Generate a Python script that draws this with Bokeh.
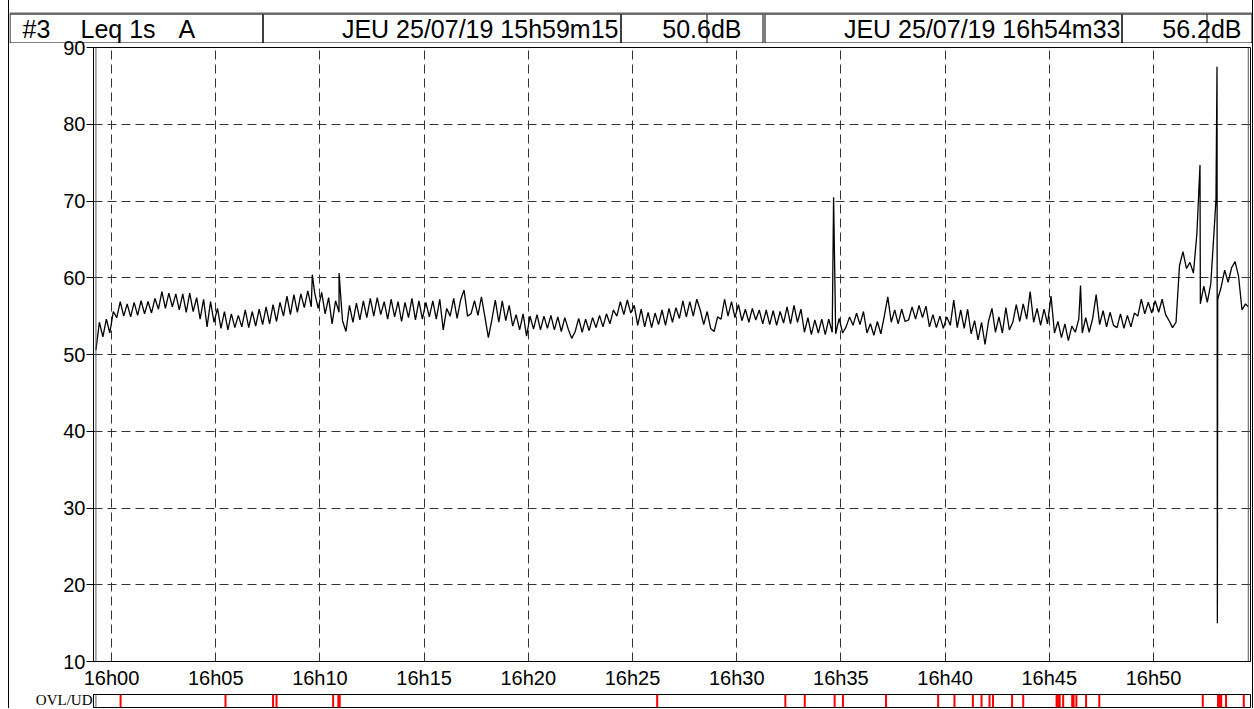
import numpy as np
from bokeh.plotting import figure
from bokeh.layouts import column
from bokeh.models import Range1d, FixedTicker, Span
from bokeh.embed import file_html
from bokeh.resources import INLINE
from bokeh.core.properties import value

# ---------------- data ----------------
channel_label = "#3"
measure_label = "Leq 1s"
weight_label = "A"
start_label = "JEU 25/07/19 15h59m15"
end_label = "JEU 25/07/19 16h54m33"
duration_s = 3318          # 15h59m15 -> 16h54m33
step_s = 10                # spacing of the sampled levels below

# Leq 1s A (dB) read every 10 s from 15h59m15 (one row per minute),
# alternating between the upper and lower edge of the noisy trace
levels_10s = [
    50.6, 54.2, 52.3, 54.6, 52.8, 55.6,
    54.8, 56.9, 55.0, 56.6, 54.9, 56.8,
    55.1, 57.0, 55.3, 56.9, 55.4, 57.3,
    55.9, 58.2, 56.0, 58.0, 56.2, 57.9,
    55.8, 57.9, 55.5, 58.0, 55.6, 57.4,
    54.6, 57.2, 53.6, 56.9, 54.2, 56.0,
    53.4, 55.6, 53.2, 55.3, 53.5, 55.1,
    53.6, 55.8, 53.5, 55.6, 53.7, 55.9,
    53.9, 56.2, 54.0, 56.5, 54.3, 56.8,
    55.0, 57.6, 55.2, 57.8, 55.5, 57.9,
    56.1, 58.3, 56.2, 58.0, 56.0, 58.1,
    55.3, 57.4, 54.0, 57.0, 55.5, 54.4,
    53.0, 56.4, 54.2, 56.7, 54.5, 57.0,
    54.8, 57.3, 55.0, 57.4, 55.2, 56.9,
    54.6, 57.2, 54.9, 56.9, 54.3, 56.8,
    54.8, 57.3, 54.5, 57.0, 54.6, 56.8,
    54.9, 57.0, 54.6, 57.2, 53.2, 56.0,
    55.0, 57.3, 54.7, 57.1, 58.4, 55.0,
    55.3, 57.0, 55.1, 57.5, 54.9, 52.2,
    54.5, 57.1, 54.2, 57.0, 54.4, 56.4,
    53.7, 55.2, 53.2, 55.3, 52.4, 55.0,
    53.3, 55.2, 53.2, 55.0, 53.4, 55.1,
    53.2, 54.9, 53.0, 54.8, 53.3, 52.1,
    53.0, 54.7, 52.9, 54.6, 53.1, 54.8,
    53.5, 55.1, 53.6, 55.3, 54.0, 55.8,
    55.0, 56.9, 55.2, 57.1, 55.4, 56.4,
    53.8, 55.9, 53.6, 55.5, 53.5, 55.4,
    53.9, 55.8, 53.8, 56.0, 54.2, 56.1,
    54.7, 57.0, 54.9, 56.9, 55.0, 57.2,
    55.8, 53.9, 55.6, 53.4, 53.0, 54.9,
    54.6, 57.2, 55.0, 56.9, 54.8, 56.5,
    54.4, 55.9, 54.2, 56.0, 54.5, 55.8,
    54.0, 55.8, 53.9, 55.7, 53.8, 55.6,
    54.1, 56.2, 54.0, 56.4, 54.2, 55.9,
    52.9, 54.8, 52.6, 54.5, 52.8, 54.6,
    52.6, 54.6, 52.9, 52.7, 54.7, 52.8,
    53.6, 54.9, 53.8, 55.4, 53.9, 55.6,
    52.8, 54.0, 52.5, 54.3, 52.7, 55.0,
    57.5, 54.2, 55.8, 54.0, 55.9, 54.3,
    54.5, 56.2, 54.6, 56.4, 54.8, 56.3,
    53.6, 55.2, 53.5, 55.0, 53.4, 54.9,
    53.8, 57.1, 53.5, 55.8, 53.4, 55.9,
    52.7, 54.4, 51.9, 54.2, 51.3, 54.3,
    56.0, 52.9, 54.9, 52.8, 56.1, 53.2,
    54.2, 56.5, 54.3, 56.6, 54.6, 58.2,
    54.2, 56.0, 53.8, 55.9, 54.0, 57.6,
    52.8, 54.3, 52.2, 54.0, 51.8, 53.7,
    52.9, 54.6, 52.8, 54.8, 52.9, 54.7,
    57.8, 53.9, 55.7, 53.6, 55.5, 53.8,
    53.5, 55.3, 53.4, 55.1, 53.6, 55.4,
    55.0, 57.2, 55.3, 56.8, 55.4, 57.0,
    55.5, 57.2, 55.2, 54.4, 53.5, 54.2,
    61.6, 63.4, 61.2, 62.0, 60.6, 65.7,
    56.6, 58.9, 56.8, 59.2, 66.4, 57.2,
    58.8, 61.0, 59.4, 61.3, 62.1, 60.2,
    55.8, 56.6,
]

# isolated peaks (seconds after 15h59m15, dB) and final value
event_t = [623, 700, 2124, 2835, 3179, 3225, 3228, 3229, 3318]
event_db = [60.4, 60.6, 70.5, 59.0, 74.7, 70.2, 87.5, 15.0, 56.2]

# OVL/UD flags (seconds after 15h59m15)
ovl_t = [71, 373, 510, 520, 683, 698, 702, 1616, 1985, 2041, 2127, 2151,
         2275, 2425, 2472, 2525, 2550, 2573, 2583, 2638, 2670, 2766, 2770,
         2775, 2785, 2811, 2815, 2823, 2851, 2889, 3187, 3231, 3236, 3240,
         3254, 3305]

x_tick_s = [45, 345, 645, 945, 1245, 1545, 1845, 2145, 2445, 2745, 3045]
x_tick_labels = ["16h00", "16h05", "16h10", "16h15", "16h20", "16h25",
                 "16h30", "16h35", "16h40", "16h45", "16h50"]
y_ticks = [10, 20, 30, 40, 50, 60, 70, 80, 90]

# ---------------- build series ----------------
grid_t = np.arange(len(levels_10s)) * step_s
t_all = np.concatenate([grid_t, np.array(event_t)])
db_all = np.concatenate([np.array(levels_10s), np.array(event_db)])
order = np.argsort(t_all, kind="stable")
t_all = t_all[order]
db_all = db_all[order]

FONT = "Liberation Sans"
FIG_W = 1243

# ---------------- header ----------------
h = figure(width=FIG_W, height=43, x_range=Range1d(0, FIG_W), y_range=Range1d(43, 0),
           x_axis_type=None, y_axis_type=None, min_border=0, outline_line_color=None,
           toolbar_location=None, output_backend="svg")
h.frame_align = False
h.grid.visible = False
box_l = [0.5, 253.5, 611.5, 755.5, 1112.5]
box_r = [253.5, 611.5, 753.5, 1112.5, 1242.5]
h.quad(left=box_l, right=box_r, top=13.5, bottom=42.5, fill_color=None,
       line_color="black", line_width=1)
h.segment(x0=[697.5, 1197.5], y0=13.5, x1=[697.5, 1197.5], y1=42.5,
          line_color="black", line_width=1)
h.segment(x0=0, y0=13, x1=FIG_W, y1=13, line_color="#666666", line_width=2)

first_txt = f"{levels_10s[0]:.1f}dB"
last_txt = f"{event_db[-1]:.1f}dB"
h.text(x=[13, 71, 169], y=28, text=[channel_label, measure_label, weight_label],
       text_font=value(FONT), text_font_size="25px", text_baseline="middle",
       text_align="left", text_color="black")
h.text(x=[609, 732, 1111, 1232], y=28, text=[start_label, first_txt, end_label, last_txt],
       text_font=value(FONT), text_font_size="25px", text_baseline="middle",
       text_align="right", text_color="black")

# ---------------- main plot ----------------
p = figure(width=FIG_W, height=656, x_range=Range1d(-7, duration_s + 6.4),
           y_range=Range1d(10, 90), min_border_left=84, min_border_right=2,
           min_border_top=12, min_border_bottom=30, toolbar_location=None,
           output_backend="svg")
p.margin = (-8, 0, 0, 0)
p.border_fill_alpha = 0
p.line(t_all, db_all, line_color="black", line_width=1.3)

p.xaxis.ticker = FixedTicker(ticks=x_tick_s)
p.xaxis.major_label_overrides = {t: lab for t, lab in zip(x_tick_s, x_tick_labels)}
p.xaxis.major_tick_out = 0
p.xaxis.major_tick_in = 0
p.xaxis.minor_tick_out = 0
p.xaxis.minor_tick_in = 0
p.xaxis.major_label_standoff = 5
p.yaxis.ticker = FixedTicker(ticks=y_ticks)
p.yaxis.major_tick_out = 7
p.yaxis.major_tick_in = 0
p.yaxis.minor_tick_out = 0
p.yaxis.minor_tick_in = 0
p.yaxis.major_label_standoff = 1
for ax in (p.xaxis, p.yaxis):
    ax.major_label_text_font = FONT
    ax.major_label_text_font_size = "20px"
    ax.major_label_text_color = "black"
    ax.axis_line_color = "black"
    ax.major_tick_line_color = "black"

p.xgrid.ticker = FixedTicker(ticks=x_tick_s)
p.ygrid.ticker = FixedTicker(ticks=y_ticks)
for g in (p.xgrid, p.ygrid):
    g.grid_line_color = "#333333"
    g.grid_line_dash = "9 5"
    g.grid_line_width = 1
    g.grid_line_alpha = 1.0
p.outline_line_color = "black"
p.outline_line_alpha = 1.0
p.add_layout(Span(location=0, dimension="height", line_color="#555555", line_width=1))
p.add_layout(Span(location=duration_s, dimension="height", line_color="#555555", line_width=1))

# ---------------- OVL/UD strip ----------------
q = figure(width=FIG_W, height=17, x_range=p.x_range, y_range=Range1d(0, 1),
           x_axis_type=None, min_border_left=84, min_border_right=2,
           min_border_top=3, min_border_bottom=1, toolbar_location=None,
           output_backend="svg")
q.grid.visible = False
q.yaxis.ticker = FixedTicker(ticks=[0.5])
q.yaxis.major_label_overrides = {0.5: "OVL/UD"}
q.yaxis.major_label_text_font = "Liberation Serif"
q.yaxis.major_label_text_font_size = "15px"
q.yaxis.major_label_text_color = "black"
q.yaxis.major_tick_out = 0
q.yaxis.major_tick_in = 0
q.yaxis.minor_tick_out = 0
q.yaxis.minor_tick_in = 0
q.yaxis.major_label_standoff = 1
q.yaxis.axis_line_color = "black"
q.outline_line_color = "black"
q.outline_line_alpha = 1.0
q.segment(x0=ovl_t, y0=0, x1=ovl_t, y1=1, line_color="#ff0000", line_width=2)
q.add_layout(Span(location=0, dimension="height", line_color="#555555", line_width=1))

layout = column(h, p, q, spacing=0,
                styles={"margin-left": "8px",
                        "border-left": "1px solid black",
                        "border-right": "1px solid black"})

open("out.html", "w").write(file_html(layout, INLINE))
